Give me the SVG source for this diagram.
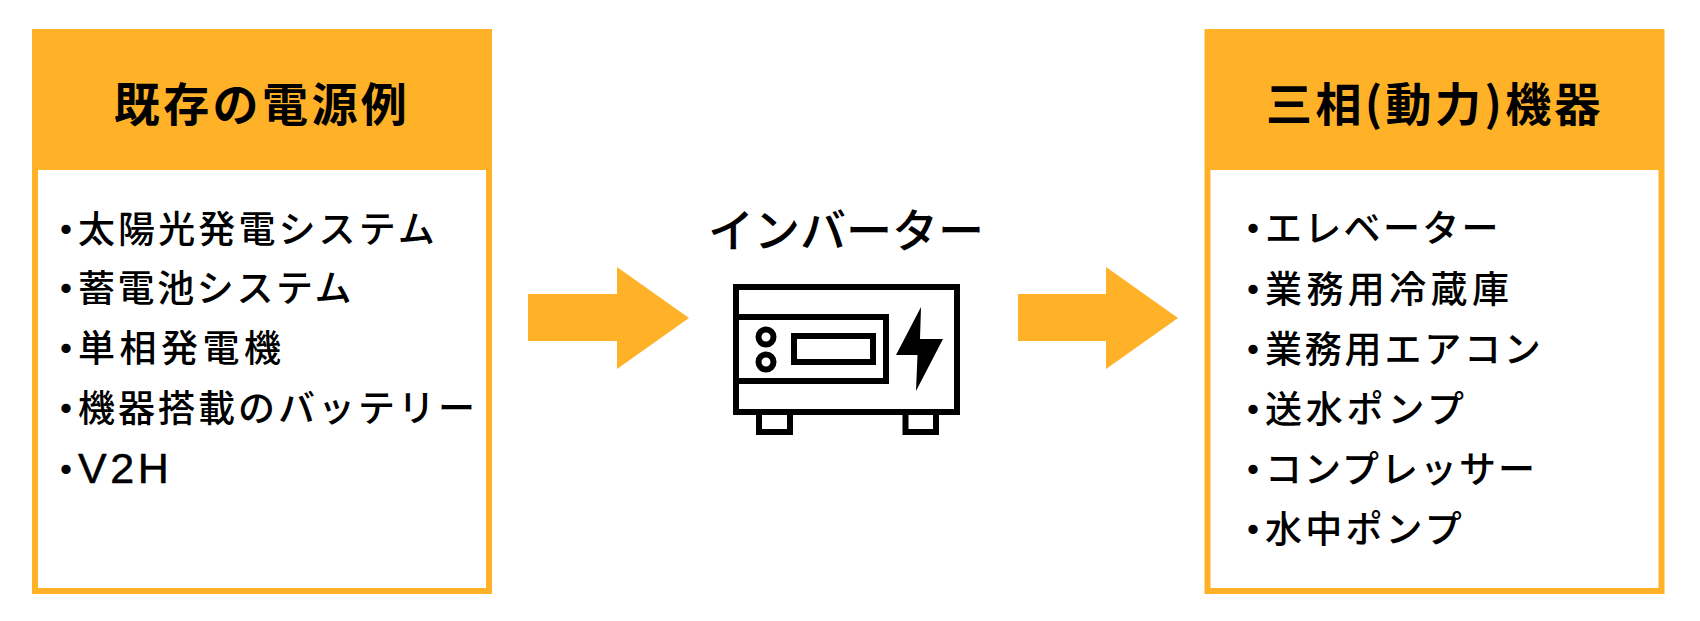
<svg xmlns="http://www.w3.org/2000/svg" width="1700" height="621" viewBox="0 0 1700 621">
<style>
text{font-family:"Noto Sans CJK JP","Noto Sans",sans-serif;fill:#000}
.h{font-size:46px;font-weight:700;letter-spacing:3.4px;text-anchor:middle}
.b{font-size:37px;font-weight:500}
.d{font-size:24px;font-weight:900;letter-spacing:0;stroke:#000;stroke-width:2.5px}
.f{fill:#ffb128}
.l{fill:none;stroke:#000;stroke-width:6}
</style>
<rect width="1700" height="621" fill="#fff"/>
<g id="source">
<rect class="f" x="32" y="29" width="460" height="565"/>
<rect x="38" y="170" width="448" height="418" fill="#fff"/>
<text class="h" x="262" y="121">既存の電源例</text>
<text class="b" x="54" y="243" letter-spacing="3.1"><tspan class="d" dy="-5">・</tspan><tspan dy="5">太陽光発電システム</tspan></text>
<text class="b" x="54" y="302" letter-spacing="2.6"><tspan class="d" dy="-5">・</tspan><tspan dy="5">蓄電池システム</tspan></text>
<text class="b" x="54" y="362" letter-spacing="4.5"><tspan class="d" dy="-5">・</tspan><tspan dy="5">単相発電機</tspan></text>
<text class="b" x="54" y="422" letter-spacing="3"><tspan class="d" dy="-5">・</tspan><tspan dy="5">機器搭載のバッテリー</tspan></text>
<text class="b" x="54" y="483" letter-spacing="3.6"><tspan class="d" dy="-5">・</tspan><tspan dy="5" font-family="Liberation Sans" font-size="43" font-weight="400" stroke="#000" stroke-width=".5">V2H</tspan></text>
</g>
<g id="connectors">
<polygon class="f" points="528,294 617,294 617,267 689,318 617,369 617,341 528,341"/>
<polygon class="f" points="1018,294 1106,294 1106,267 1178,318 1106,369 1106,341 1018,341"/>
</g>
<g id="inverter">
<text x="846" y="247" font-size="46" font-weight="500" text-anchor="middle">インバーター</text>
<rect class="l" x="736" y="287" width="221" height="125"/>
<path class="l" d="M736 317H886V381H736"/>
<circle class="l" cx="766" cy="337" r="7.5" stroke-width="5"/>
<circle class="l" cx="766" cy="362" r="7.5" stroke-width="5"/>
<rect class="l" x="794" y="336" width="79" height="26" stroke-width="5"/>
<polygon points="921,307 896,355 917.5,355 916,391 943,339 920,339" fill="#000"/>
<path class="l" d="M759 414V432H790V414M905.5 414V432H936V414"/>
</g>
<g id="target">
<rect class="f" x="1204.5" y="29" width="460" height="565"/>
<rect x="1210.5" y="170" width="448" height="418" fill="#fff"/>
<text class="h" x="1435" y="121">三相(動力)機器</text>
<text class="b" x="1241" y="242" letter-spacing="2.3"><tspan class="d" dy="-5">・</tspan><tspan dy="5">エレベーター</tspan></text>
<text class="b" x="1241" y="303" letter-spacing="4.4"><tspan class="d" dy="-5">・</tspan><tspan dy="5">業務用冷蔵庫</tspan></text>
<text class="b" x="1241" y="363" letter-spacing="2.8"><tspan class="d" dy="-5">・</tspan><tspan dy="5">業務用エアコン</tspan></text>
<text class="b" x="1241" y="423" letter-spacing="3.8"><tspan class="d" dy="-5">・</tspan><tspan dy="5">送水ポンプ</tspan></text>
<text class="b" x="1241" y="483" letter-spacing="2"><tspan class="d" dy="-5">・</tspan><tspan dy="5">コンプレッサー</tspan></text>
<text class="b" x="1241" y="543" letter-spacing="3.2"><tspan class="d" dy="-5">・</tspan><tspan dy="5">水中ポンプ</tspan></text>
</g>
</svg>
